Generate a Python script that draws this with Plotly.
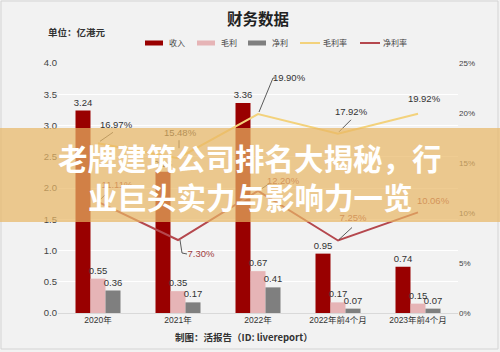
import plotly.graph_objects as go

categories = ["2020年", "2021年", "2022年", "2022年前4个月", "2023年前4个月"]
revenue = [3.24, 2.26, 3.36, 0.95, 0.74]
gross_profit = [0.55, 0.35, 0.67, 0.17, 0.15]
net_profit = [0.36, 0.17, 0.41, 0.07, 0.07]
gross_margin = [16.97, 15.48, 19.90, 17.92, 19.92]
net_margin = [11.11, 7.30, 12.20, 7.25, 10.06]
left_ticks = [0.0, 0.5, 1.0, 1.5, 2.0, 2.5, 3.0, 3.5, 4.0]
right_ticks = [0, 5, 10, 15, 20, 25]

W, H = 500, 352
L, R, T, B = 58, 458, 63, 313
XPX = (R - L) / len(categories)      # px per category
Y2PX = (B - T) / 25.0                # px per percent

def px2x(px):
    return (px - L) / (R - L)

def px2y(py):
    return (B - py) / (B - T)

xs = list(range(len(categories)))
NUMF = "Liberation Sans, Noto Sans CJK SC"
CJK = "Noto Sans CJK SC, Liberation Sans"

fig = go.Figure()
bar_specs = [("收入", revenue, "#990000"), ("毛利", gross_profit, "#e6b4b6"), ("净利", net_profit, "#7f7f7f")]
for name, vals, col in bar_specs:
    fig.add_trace(go.Bar(x=xs, y=vals, name=name, marker=dict(color=col, line=dict(width=0)),
                         text=[f"{v:.2f}" for v in vals], textposition="outside", constraintext="none",
                         textfont=dict(size=9.5, color="#333333", family=NUMF),
                         cliponaxis=False, showlegend=False))

GM_COL = "#f3d27c"
NM_COL = "#b5484e"
fig.add_trace(go.Scatter(x=xs, y=gross_margin, yaxis="y2", mode="lines",
                         line=dict(color=GM_COL, width=2), showlegend=False))
fig.add_trace(go.Scatter(x=xs, y=net_margin, yaxis="y2", mode="lines",
                         line=dict(color=NM_COL, width=2), showlegend=False))

# label offsets (px, upward positive): label centre and leader polyline
gm_lab = [(18, 18), (2, 25), (31, 35), (13, 21), (6, 14)]
gm_lead = [[(2, 2), (15, 11)], [(1, 10), (1, 18)], [(1, 2), (15, 36), (17, 36)], [(1, 2), (13, 14)], []]
nm_lab = [(19, 16), (23, -15), (25, 9), (15, 21.5), (15, 11)]
nm_lead = [[(2, 2), (10, 10)], [(2, 0), (4, -13), (9, -14)], [(2, 1), (12, 8)], [(1, 1), (14, 13)], []]

def add_labels(vals, labs, leads, color):
    lx, ly, tx = [], [], []
    sx, sy = [], []
    for i, v in enumerate(vals):
        dx, dy = labs[i]
        lx.append(i + dx / XPX)
        ly.append(v + dy / Y2PX)
        tx.append(f"{v:.2f}%")
        for (ox, oy) in leads[i]:
            sx.append(i + ox / XPX)
            sy.append(v + oy / Y2PX)
        sx.append(None); sy.append(None)
    fig.add_trace(go.Scatter(x=sx, y=sy, yaxis="y2", mode="lines",
                             line=dict(color="#333333", width=0.8), showlegend=False, hoverinfo="skip"))
    fig.add_trace(go.Scatter(x=lx, y=ly, yaxis="y2", mode="text", text=tx,
                             textfont=dict(size=9.5, color=color, family=NUMF),
                             showlegend=False, cliponaxis=False))

add_labels(gross_margin, gm_lab, gm_lead, "#333333")
add_labels(net_margin, nm_lab, nm_lead, "#a0413f")

shapes = []
annotations = []

# outer frame
shapes.append(dict(type="rect", xref="paper", yref="paper", x0=px2x(1), x1=px2x(498), y0=px2y(349), y1=px2y(1),
                   line=dict(color="#d4d4d4", width=1), layer="below"))

# custom legend
leg_y = 43
leg_items = [("收入", "bar", "#990000", 145), ("毛利", "bar", "#e6b4b6", 197), ("净利", "bar", "#7f7f7f", 248),
             ("毛利率", "line", GM_COL, 300), ("净利率", "line", NM_COL, 360)]
for name, kind, col, x0 in leg_items:
    if kind == "bar":
        shapes.append(dict(type="rect", xref="paper", yref="paper", x0=px2x(x0), x1=px2x(x0 + 18),
                           y0=px2y(leg_y + 2.5), y1=px2y(leg_y - 2.5), fillcolor=col, line=dict(width=0)))
    else:
        shapes.append(dict(type="line", xref="paper", yref="paper", x0=px2x(x0), x1=px2x(x0 + 20),
                           y0=px2y(leg_y), y1=px2y(leg_y), line=dict(color=col, width=2)))
    tx0 = x0 + (22 if kind == "bar" else 21)
    annotations.append(dict(text=name, xref="paper", yref="paper", x=px2x(tx0), y=px2y(leg_y),
                            xanchor="left", yanchor="middle", showarrow=False,
                            font=dict(size=8, color="#444444", family=CJK)))

# title, unit, credit
annotations.append(dict(text="<b>财务数据</b>", xref="paper", yref="paper", x=px2x(258), y=px2y(18),
                        xanchor="center", yanchor="middle", showarrow=False,
                        font=dict(size=15.5, color="#222222", family=CJK)))
annotations.append(dict(text="<b>单位：亿港元</b>", xref="paper", yref="paper", x=px2x(46), y=px2y(32),
                        xanchor="left", yanchor="middle", showarrow=False,
                        font=dict(size=9.5, color="#333333", family=CJK)))
annotations.append(dict(text="<b>制图：活报告（ID: livereport）</b>", xref="paper", yref="paper", x=px2x(173), y=px2y(337),
                        xanchor="left", yanchor="middle", showarrow=False,
                        font=dict(size=9.5, color="#333333", family=CJK)))

# overlay banner
shapes.append(dict(type="rect", xref="paper", yref="paper", x0=px2x(0), x1=px2x(500), y0=px2y(222), y1=px2y(128),
                   fillcolor="rgba(232,182,100,0.7)", line=dict(width=0), layer="above"))
annotations.append(dict(text="<b>老牌建筑公司排名大揭秘，行</b>", xref="paper", yref="paper", x=px2x(250), y=px2y(157),
                        xanchor="center", yanchor="middle", showarrow=False,
                        font=dict(size=29.5, color="#ffffff", family=CJK)))
annotations.append(dict(text="<b>业巨头实力与影响力一览</b>", xref="paper", yref="paper", x=px2x(250), y=px2y(196),
                        xanchor="center", yanchor="middle", showarrow=False,
                        font=dict(size=29.5, color="#ffffff", family=CJK)))

fig.update_layout(
    width=W, height=H,
    margin=dict(l=L, r=W - R, t=T, b=H - B, pad=0),
    paper_bgcolor="#f2f2f2", plot_bgcolor="#f2f2f2",
    barmode="group", bargap=0.4375, bargroupgap=0,
    showlegend=False,
    xaxis=dict(range=[-0.5, len(categories) - 0.5], tickvals=xs, ticktext=categories,
               showgrid=False, zeroline=False, showline=False, ticks="",
               tickfont=dict(size=8.5, color="#333333", family=NUMF)),
    yaxis=dict(range=[0, 4], tickvals=left_ticks, ticktext=[f"{v:.1f}" for v in left_ticks],
               showgrid=True, gridcolor="#ffffff", gridwidth=1, zeroline=True, zerolinecolor="#d9d9d9",
               zerolinewidth=1, ticks="", tickfont=dict(size=9.5, color="#444444", family=NUMF)),
    yaxis2=dict(range=[0, 25], tickvals=right_ticks, ticktext=[f"{v}%" for v in right_ticks],
                overlaying="y", side="right", showgrid=False, zeroline=False, ticks="",
                tickfont=dict(size=8, color="#444444", family=NUMF)),
    shapes=shapes, annotations=annotations,
)

fig.write_html("out.html")
